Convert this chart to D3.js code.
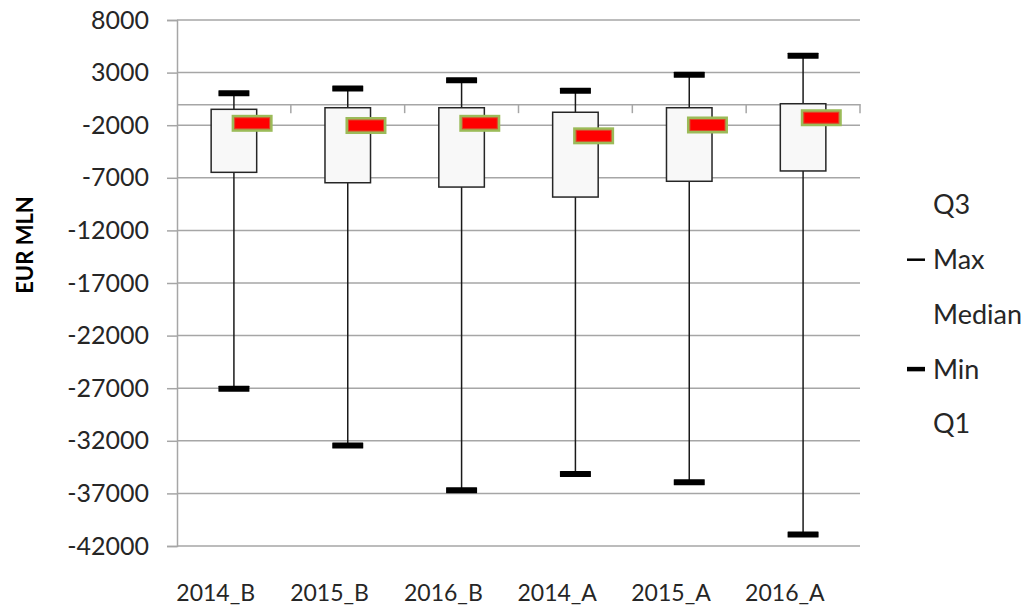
<!DOCTYPE html>
<html>
<head>
<meta charset="utf-8">
<script src="https://cdn.jsdelivr.net/npm/d3@7"></script>
<style>
  html, body { margin: 0; padding: 0; background: #ffffff; }
  svg { display: block; }
  text { font-family: Lato, "Open Sans", sans-serif; fill: #262626; }
</style>
</head>
<body>
<svg id="chart" width="1030" height="609"></svg>
<script>
const categories = ["2014_B", "2015_B", "2016_B", "2014_A", "2015_A", "2016_A"];
const maxVals    = [1030, 1500, 2270, 1280, 2800, 4600];
const q3Vals     = [-490, -340, -340, -770, -340, 40];
const medianVals = [-1820, -2030, -1820, -3010, -1980, -1290];
const q1Vals     = [-6480, -7470, -7880, -8830, -7330, -6350];
const minVals    = [-27050, -32450, -36700, -35150, -35950, -40900];
const yTicks     = [8000, 3000, -2000, -7000, -12000, -17000, -22000, -27000, -32000, -37000, -42000];
const legendItems = ["Q3", "Max", "Median", "Min", "Q1"];
const yTitle = "EUR MLN";

const svg = d3.select("#chart");
const plot = { left: 177, right: 860, top: 20, bottom: 546 };

const y = d3.scaleLinear().domain([-42000, 8000]).range([plot.bottom, plot.top]);
const x = d3.scaleBand().domain(categories).range([plot.left, plot.right]);
const bw = x.bandwidth();
const gridColor = "#a6a6a6";

// gridlines
svg.append("g").selectAll("line").data(yTicks).join("line")
  .attr("x1", plot.left).attr("x2", plot.right)
  .attr("y1", d => y(d)).attr("y2", d => y(d))
  .attr("stroke", gridColor).attr("stroke-width", 1.5);

// y axis
const yAxis = d3.axisLeft(y).tickValues(yTicks).tickSize(10).tickPadding(18).tickFormat(d => String(d));
const gy = svg.append("g").attr("transform", `translate(${plot.left},0)`).call(yAxis);
gy.select(".domain").attr("stroke", gridColor).attr("stroke-width", 1.5);
gy.selectAll(".tick line").attr("stroke", gridColor).attr("stroke-width", 1.5);
gy.selectAll(".tick text").attr("font-size", 25).attr("fill", "#262626")
  .attr("font-family", "Lato, sans-serif");

// x axis at zero
const xAxis = d3.axisBottom(x).tickSize(0).tickFormat("");
const gx = svg.append("g").attr("transform", `translate(0,${y(0)})`).call(xAxis);
gx.select(".domain").attr("stroke", gridColor).attr("stroke-width", 1.5);
// category boundary ticks
svg.append("g").selectAll("line").data(categories).join("line")
  .attr("x1", d => x(d) + bw).attr("x2", d => x(d) + bw)
  .attr("y1", y(0)).attr("y2", y(0) + 9)
  .attr("stroke", gridColor).attr("stroke-width", 1.5);

// category labels at bottom (offset left as in the original)
const labelOff = -bw * 0.16;
svg.append("g").selectAll("text").data(categories).join("text")
  .attr("x", d => x(d) + bw / 2 + labelOff).attr("y", 601)
  .attr("text-anchor", "middle").attr("font-size", 23)
  .text(d => d);

// y title
svg.append("text")
  .attr("transform", `translate(33,245) rotate(-90)`)
  .attr("text-anchor", "middle").attr("font-size", 22).attr("font-weight", "bold")
  .style("fill", "#000")
  .text(yTitle);

const data = categories.map((c, i) => ({
  c, max: maxVals[i], q3: q3Vals[i], med: medianVals[i], q1: q1Vals[i], min: minVals[i]
}));

const boxW = bw * 0.4;
const capW = 31, capH = 6;
const g = svg.append("g");

// whiskers
g.selectAll("line.wlow").data(data).join("line").attr("class", "wlow")
  .attr("x1", d => x(d.c) + bw / 2).attr("x2", d => x(d.c) + bw / 2)
  .attr("y1", d => y(d.min)).attr("y2", d => y(d.q1))
  .attr("stroke", "#1a1a1a").attr("stroke-width", 1.5);
g.selectAll("line.whigh").data(data).join("line").attr("class", "whigh")
  .attr("x1", d => x(d.c) + bw / 2).attr("x2", d => x(d.c) + bw / 2)
  .attr("y1", d => y(d.max)).attr("y2", d => y(d.q3))
  .attr("stroke", "#1a1a1a").attr("stroke-width", 1.5);

// boxes
g.selectAll("rect.box").data(data).join("rect").attr("class", "box")
  .attr("x", d => x(d.c) + bw / 2 - boxW / 2).attr("width", boxW)
  .attr("y", d => y(d.q3)).attr("height", d => y(d.q1) - y(d.q3))
  .attr("fill", "#f8f8f8").attr("stroke", "#262626").attr("stroke-width", 1.5);

// caps
g.selectAll("rect.capmax").data(data).join("rect").attr("class", "capmax")
  .attr("x", d => x(d.c) + bw / 2 - capW / 2).attr("width", capW)
  .attr("y", d => y(d.max) - capH / 2).attr("height", capH)
  .attr("fill", "#000").attr("rx", 0.5);
g.selectAll("rect.capmin").data(data).join("rect").attr("class", "capmin")
  .attr("x", d => x(d.c) + bw / 2 - capW / 2).attr("width", capW)
  .attr("y", d => y(d.min) - capH / 2).attr("height", capH)
  .attr("fill", "#000").attr("rx", 0.5);

// median markers
const mW = 38, mH = 14, mOff = bw * 0.16;
g.selectAll("rect.med").data(data).join("rect").attr("class", "med")
  .attr("x", d => x(d.c) + bw / 2 + mOff - mW / 2).attr("width", mW)
  .attr("y", d => y(d.med) - mH / 2).attr("height", mH)
  .attr("fill", "#ff0000").attr("stroke", "#9bbb59").attr("stroke-width", 3);
g.selectAll("rect.medin").data(data).join("rect").attr("class", "medin")
  .attr("x", d => x(d.c) + bw / 2 + mOff - mW / 2 + 1.5).attr("width", mW - 3)
  .attr("y", d => y(d.med) - mH / 2 + 1.5).attr("height", mH - 3)
  .attr("fill", "none").attr("stroke", "#d84a2a").attr("stroke-width", 1);

// legend
const legY0 = 205, legStep = 54.7;
const leg = svg.append("g");
leg.selectAll("text").data(legendItems).join("text")
  .attr("x", 933).attr("y", (d, i) => legY0 + i * legStep)
  .attr("dy", "0.35em").attr("font-size", 27)
  .text(d => d);
leg.append("line")
  .attr("x1", 907).attr("x2", 925)
  .attr("y1", legY0 + 1 * legStep).attr("y2", legY0 + 1 * legStep)
  .attr("stroke", "#000").attr("stroke-width", 2.5);
leg.append("line")
  .attr("x1", 907).attr("x2", 925)
  .attr("y1", legY0 + 3 * legStep).attr("y2", legY0 + 3 * legStep)
  .attr("stroke", "#000").attr("stroke-width", 4.5);
</script>
</body>
</html>
